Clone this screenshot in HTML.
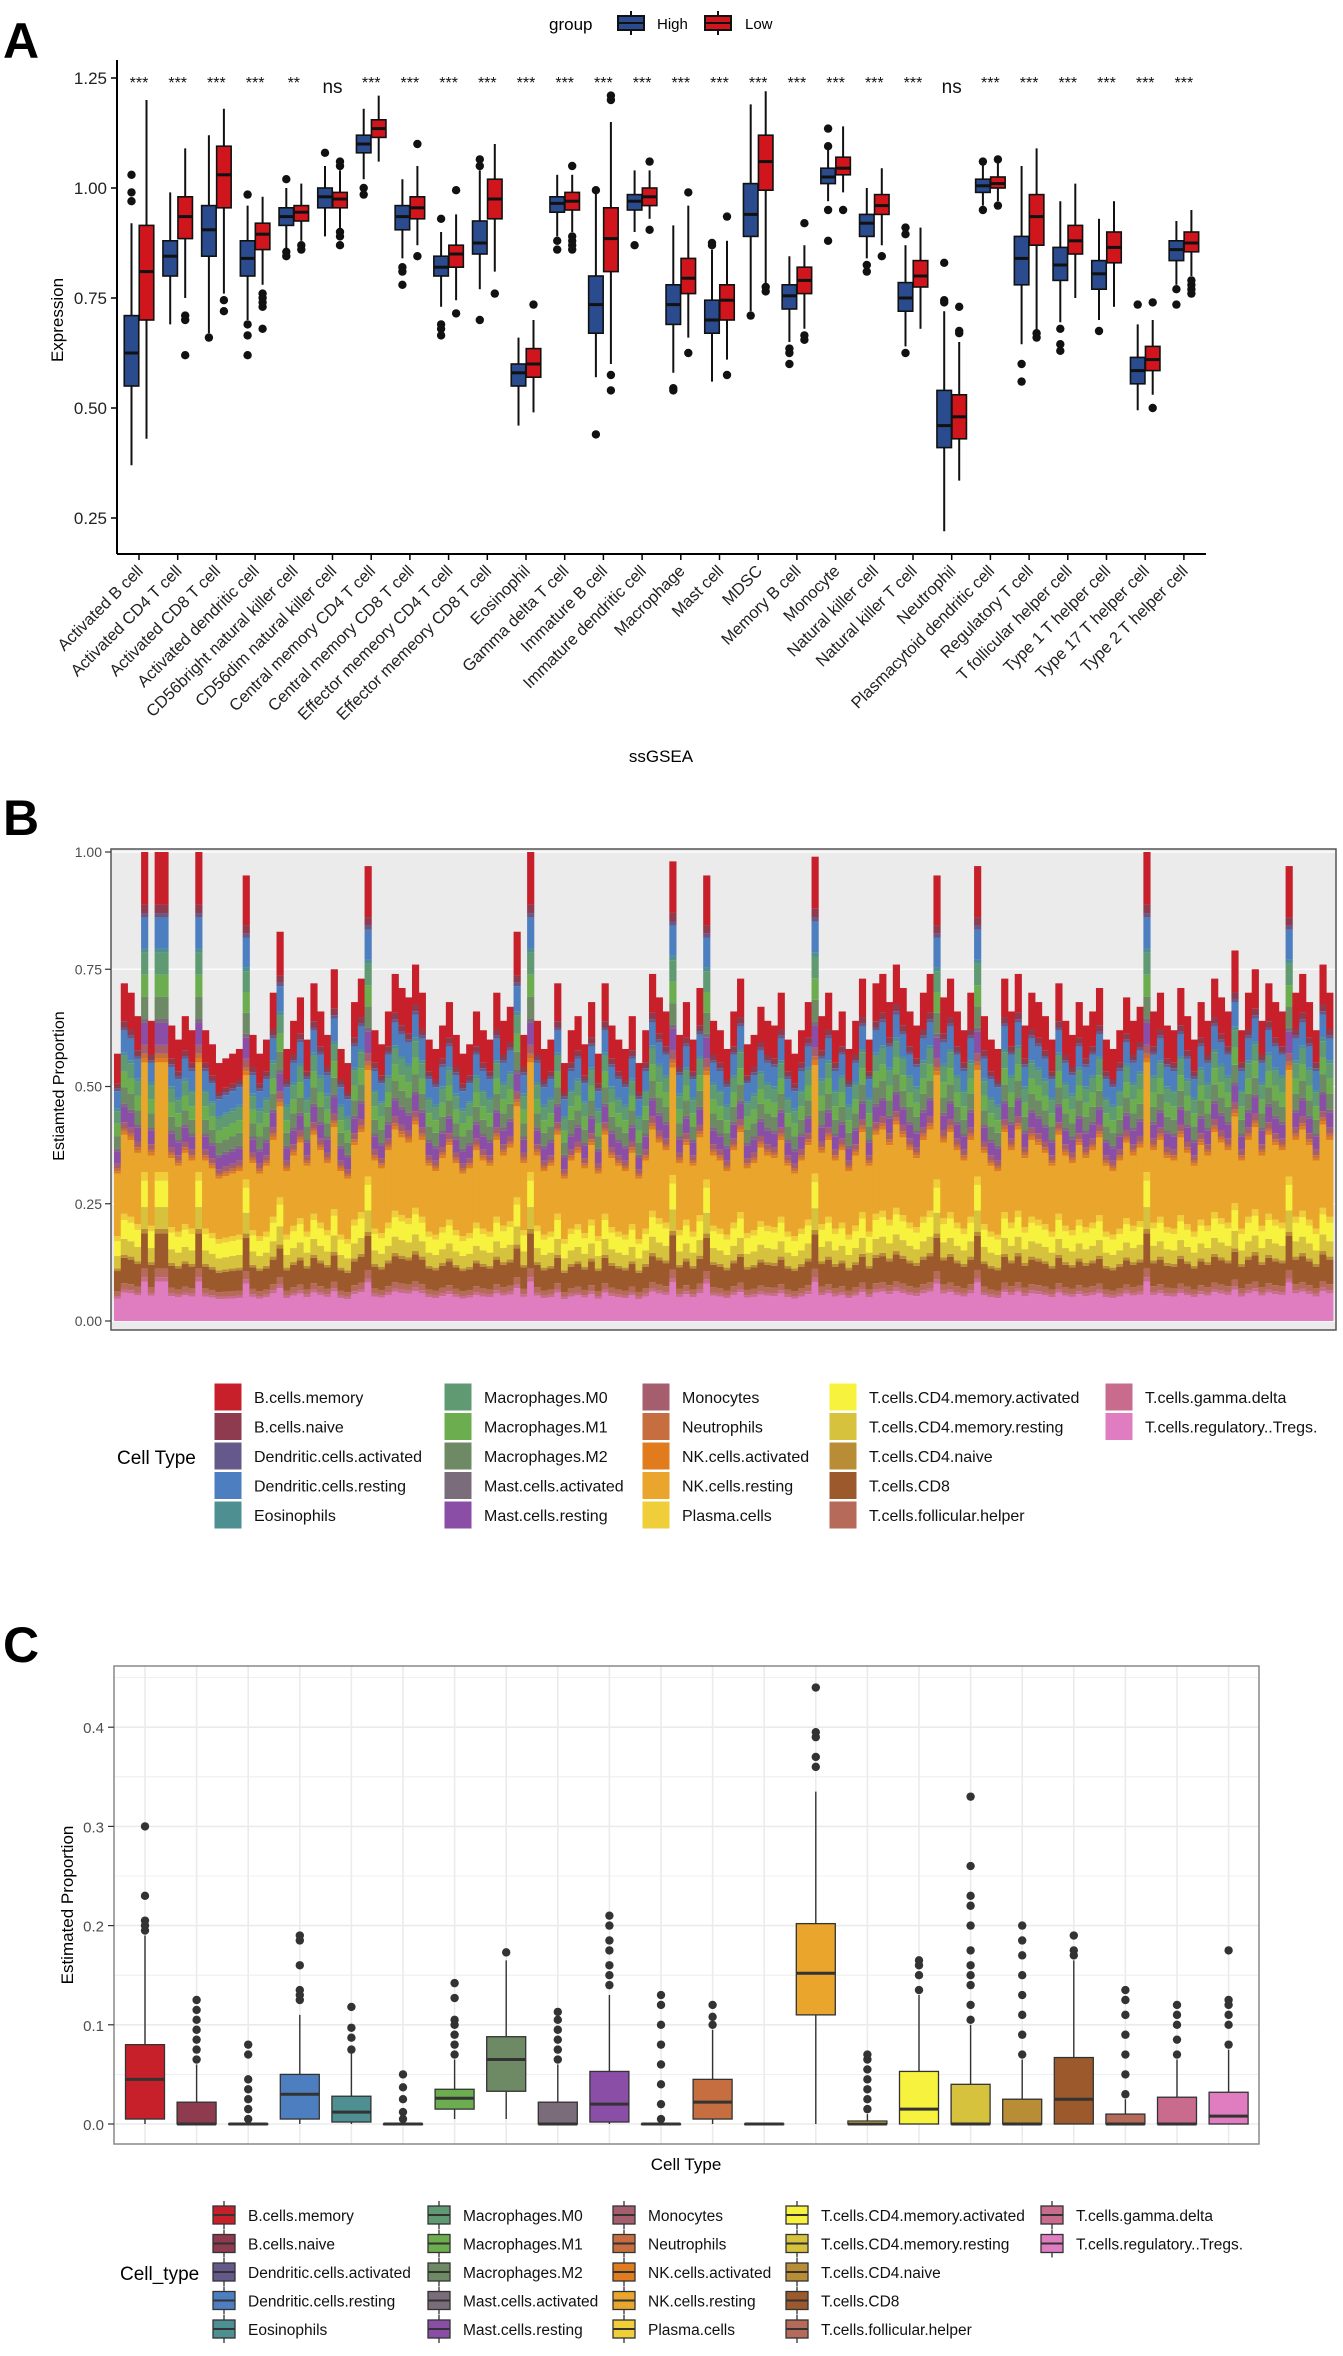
<!DOCTYPE html>
<html><head><meta charset="utf-8"><style>
html,body{margin:0;padding:0;background:#fff;}
svg{display:block;font-family:"Liberation Sans",Arial,sans-serif;}
</style></head><body>
<svg id="fig" width="1343" height="2356" viewBox="0 0 1343 2356" xmlns="http://www.w3.org/2000/svg">
<g id="pA"></g>
<g id="pB"></g>
<g id="pC"></g>
</svg>
<script>
// ---------- Panel A data ----------
const aCategories = ["Activated B cell","Activated CD4 T cell","Activated CD8 T cell","Activated dendritic cell","CD56bright natural killer cell","CD56dim natural killer cell","Central memory CD4 T cell","Central memory CD8 T cell","Effector memeory CD4 T cell","Effector memeory CD8 T cell","Eosinophil","Gamma delta T cell","Immature  B cell","Immature dendritic cell","Macrophage","Mast cell","MDSC","Memory B cell","Monocyte","Natural killer cell","Natural killer T cell","Neutrophil","Plasmacytoid dendritic cell","Regulatory T cell","T follicular helper cell","Type 1 T helper cell","Type 17 T helper cell","Type 2 T helper cell"];
const aSignif = ["***","***","***","***","**","ns","***","***","***","***","***","***","***","***","***","***","***","***","***","***","***","ns","***","***","***","***","***","***"];
// [whiskerLow, q1, median, q3, whiskerHigh]
const aHigh = [[.37,.55,.625,.71,.92],[.69,.80,.845,.88,.99],[.67,.845,.905,.96,1.12],[.70,.80,.84,.88,.96],[.86,.915,.935,.955,1.00],[.89,.955,.98,1.00,1.05],[1.02,1.08,1.10,1.12,1.18],[.84,.905,.935,.96,1.02],[.73,.80,.82,.845,.90],[.77,.85,.875,.925,1.04],[.46,.55,.58,.60,.66],[.89,.945,.965,.98,1.03],[.57,.67,.735,.80,.99],[.90,.95,.97,.985,1.04],[.58,.69,.735,.78,.915],[.56,.67,.70,.745,.86],[.72,.89,.94,1.01,1.19],[.65,.725,.755,.78,.845],[.97,1.01,1.025,1.045,1.09],[.84,.89,.92,.94,1.00],[.64,.72,.75,.785,.87],[.22,.41,.46,.54,.72],[.96,.99,1.005,1.02,1.06],[.645,.78,.84,.89,1.05],[.695,.79,.825,.865,.97],[.70,.77,.805,.835,.93],[.495,.555,.585,.615,.69],[.78,.835,.86,.88,.925]];
const aLow = [[.43,.70,.81,.915,1.20],[.75,.885,.935,.98,1.09],[.76,.955,1.03,1.095,1.18],[.78,.86,.895,.92,.98],[.88,.925,.945,.96,1.01],[.90,.955,.975,.99,1.04],[1.06,1.115,1.135,1.155,1.21],[.87,.93,.955,.98,1.05],[.745,.82,.85,.87,.94],[.81,.93,.975,1.02,1.10],[.49,.57,.60,.635,.70],[.90,.95,.97,.99,1.03],[.60,.81,.885,.955,1.15],[.93,.96,.98,1.00,1.04],[.66,.76,.795,.84,.96],[.61,.70,.745,.78,.88],[.78,.995,1.06,1.12,1.22],[.68,.76,.79,.82,.87],[.99,1.03,1.045,1.07,1.14],[.87,.94,.96,.985,1.045],[.68,.775,.80,.835,.91],[.335,.43,.48,.53,.65],[.97,1.00,1.01,1.025,1.06],[.675,.87,.935,.985,1.09],[.75,.85,.88,.915,1.01],[.73,.83,.865,.90,.97],[.53,.585,.61,.64,.70],[.80,.855,.875,.90,.95]];
const aHighOut = [[.97,.99,1.03],[],[.66],[.985,.69,.665,.62],[1.02,.855,.845],[1.08],[1.00,.985],[.82,.81,.78],[.93,.69,.68,.665],[1.065,1.05,.70],[],[.88,.86],[.995,.44],[.87],[.545,.54],[.875,.87],[.71],[.635,.625,.60],[1.135,1.095,.95,.88],[.825,.81],[.91,.895,.625],[.83,.745,.74],[1.06,.95],[.60,.56],[.68,.645,.63],[.675],[.735],[.77,.735]];
const aLowOut = [[],[.71,.70,.62],[.745,.72],[.76,.75,.74,.73,.68],[.87,.86],[1.06,1.05,.90,.89,.87],[],[1.10,.845],[.995,.715],[.76],[.735],[1.05,.89,.88,.87,.86],[1.21,1.20,.575,.54],[1.06,.905],[.99,.625],[.935,.575],[.775,.765],[.92,.665,.655],[.95],[.845],[],[.73,.675,.67],[1.065,.96],[.67,.66],[],[],[.74,.50],[.79,.78,.77,.76]];
const aTicks = [0.25,0.50,0.75,1.00,1.25];
const aTickLabels = ["0.25","0.50","0.75","1.00","1.25"];

// ---------- Panel B data ----------
const cellTypes = ["B.cells.memory","B.cells.naive","Dendritic.cells.activated","Dendritic.cells.resting","Eosinophils","Macrophages.M0","Macrophages.M1","Macrophages.M2","Mast.cells.activated","Mast.cells.resting","Monocytes","Neutrophils","NK.cells.activated","NK.cells.resting","Plasma.cells","T.cells.CD4.memory.activated","T.cells.CD4.memory.resting","T.cells.CD4.naive","T.cells.CD8","T.cells.follicular.helper","T.cells.gamma.delta","T.cells.regulatory..Tregs."];
const cellColors = ["#c8202a","#8e3a4f","#65588a","#4d7fc0","#4e8f91","#5f9a72","#6cad4f","#6e8a65","#7a6c7a","#8b4ea6","#a65d6e","#c66e3f","#e07b1e","#e9a52c","#f0ce3a","#f7f23d","#d6c23d","#b88d35","#9c5a2c","#b56a5a","#c86b8c","#e07cc0"];
const meanFractions = [.12,.02,.01,.07,.01,.05,.05,.05,.01,.05,.02,.01,.01,.25,.02,.06,.05,.01,.08,.02,.01,.09];
const sampleTotals = [.57,.72,.70,.65,1.0,.64,1.0,1.0,.63,.60,.65,.62,1.0,.62,.59,.55,.56,.57,.58,.95,.61,.57,.60,.70,.83,.58,.64,.69,.60,.72,.66,.61,.75,.58,.55,.68,.73,.97,.62,.59,.66,.74,.71,.69,.76,.70,.60,.58,.63,.68,.61,.57,.59,.66,.62,.60,.70,.64,.67,.83,.61,1.0,.64,.58,.60,.72,.55,.62,.65,.59,.68,.57,.72,.63,.60,.58,.65,.55,.62,.74,.69,.66,.98,.61,.68,.60,.71,.95,.64,.62,.58,.66,.73,.59,.61,.67,.64,.63,.70,.60,.57,.62,.68,.99,.65,.70,.62,.66,.58,.64,.73,.60,.72,.74,.68,.76,.71,.66,.63,.70,.74,.95,.69,.73,.66,.62,.70,.97,.65,.60,.58,.73,.66,.74,.63,.70,.68,.65,.60,.72,.64,.61,.68,.63,.66,.71,.60,.58,.62,.69,.64,.67,1.0,.66,.70,.63,.62,.71,.65,.60,.68,.64,.73,.69,.66,.79,.62,.70,.75,.64,.72,.68,.66,.97,.70,.74,.68,.62,.76,.70];
const bTicks = [0,0.25,0.5,0.75,1.0];
const bTickLabels = ["0.00","0.25","0.50","0.75","1.00"];

// ---------- Panel C data ----------
// [whiskerLow, q1, median, q3, whiskerHigh]
const cStats = [[0,.005,.045,.08,.19],[0,0,0,.022,.06],[0,0,0,0,0],[0,.005,.03,.05,.11],[0,.002,.012,.028,.072],[0,0,0,0,0],[.005,.015,.026,.035,.065],[.005,.033,.065,.088,.165],[0,0,0,.022,.06],[0,.002,.02,.053,.13],[0,0,0,0,0],[0,.005,.022,.045,.095],[0,0,0,0,0],[0,.11,.152,.202,.335],[0,0,0,.003,.01],[0,0,.015,.053,.13],[0,0,0,.04,.1],[0,0,0,.025,.065],[0,0,.025,.067,.165],[0,0,0,.01,.025],[0,0,0,.027,.065],[0,0,.008,.032,.075]];
const cOut = [[.195,.2,.205,.23,.30],[.065,.075,.085,.095,.105,.115,.125],[.005,.015,.025,.035,.045,.07,.08],[.125,.13,.135,.16,.185,.19],[.075,.087,.097,.118],[.005,.012,.025,.037,.05],[.07,.08,.09,.1,.105,.127,.142],[.173],[.065,.075,.085,.095,.105,.113],[.14,.15,.16,.175,.185,.2,.21],[.005,.02,.04,.06,.08,.1,.12,.13],[.1,.108,.12],[],[.36,.37,.39,.395,.44],[.015,.025,.035,.045,.055,.065,.07],[.135,.15,.16,.165],[.105,.12,.14,.15,.16,.175,.2,.22,.23,.26,.33],[.07,.09,.11,.13,.15,.17,.185,.2],[.17,.175,.19],[.03,.05,.07,.09,.11,.125,.135],[.07,.085,.1,.11,.12],[.08,.1,.11,.12,.125,.175]];
const cTicks = [0,0.1,0.2,0.3,0.4];
const cTickLabels = ["0.0","0.1","0.2","0.3","0.4"];

const NS = "http://www.w3.org/2000/svg";
function mk(parent, tag, attrs, text){
  const e = document.createElementNS(NS, tag);
  for (const k in attrs) e.setAttribute(k, attrs[k]);
  if (text !== undefined) e.textContent = text;
  parent.appendChild(e);
  return e;
}

// ================= PANEL A =================
(function(){
  const g = document.getElementById('pA');
  const yA = v => 78 + (1.25 - v) * 440;
  const xA = i => 139 + i * 38.7;
  let t = mk(g,'text',{x:3,y:58,'font-size':50,'font-weight':'bold'},'A');
   
  // legend
  const lg = mk(g,'g',{});
   
  mk(lg,'text',{x:549,y:30,'font-size':17},'group');
  [["High","#2a4b8d",618,657],["Low","#d0161c",705,745]].forEach(d=>{
    const e = mk(lg,'g',{});
     
    mk(e,'line',{x1:d[2]+13,x2:d[2]+13,y1:11,y2:35,stroke:'#111','stroke-width':2});
    mk(e,'rect',{x:d[2],y:16,width:26,height:14,fill:d[1],stroke:'#111','stroke-width':2});
    mk(e,'line',{x1:d[2],x2:d[2]+26,y1:23,y2:23,stroke:'#111','stroke-width':2});
    mk(e,'text',{x:d[3],y:29,'font-size':15},d[0]);
  });
  // axes
  const ax = mk(g,'g',{});
   
  mk(ax,'line',{x1:117,x2:117,y1:60,y2:554,stroke:'#000','stroke-width':2});
  aTicks.forEach((v,i)=>{
    mk(ax,'line',{x1:111,x2:117,y1:yA(v),y2:yA(v),stroke:'#000','stroke-width':1.5});
    mk(ax,'text',{x:107,y:yA(v)+6,'font-size':17,'text-anchor':'end',fill:'#222'},aTickLabels[i]);
  });
  t = mk(g,'text',{x:0,y:0,'font-size':17,'text-anchor':'middle',transform:'translate(63,320) rotate(-90)'},'Expression');
   
  const xa = mk(g,'g',{});
   
  mk(xa,'line',{x1:117,x2:1206,y1:554,y2:554,stroke:'#000','stroke-width':2});
  aCategories.forEach((c,i)=>{
    mk(xa,'line',{x1:xA(i),x2:xA(i),y1:554,y2:560,stroke:'#000','stroke-width':1.5});
    mk(xa,'text',{x:0,y:0,'font-size':16.5,'text-anchor':'end',fill:'#222',transform:`translate(${xA(i)+5},${572}) rotate(-45)`},c);
  });
  t = mk(g,'text',{x:661,y:762,'font-size':17,'text-anchor':'middle'},'ssGSEA');
   
  function box(parent, cx, s, fill, outs){
    const w = 14.5;
    mk(parent,'line',{x1:cx,x2:cx,y1:yA(s[0]),y2:yA(s[4]),stroke:'#111','stroke-width':2});
    mk(parent,'rect',{x:cx-w/2,y:yA(s[3]),width:w,height:yA(s[1])-yA(s[3]),fill:fill,stroke:'#111','stroke-width':1.6});
    mk(parent,'line',{x1:cx-w/2,x2:cx+w/2,y1:yA(s[2]),y2:yA(s[2]),stroke:'#111','stroke-width':3});
    outs.forEach(o=>mk(parent,'circle',{cx:cx,cy:yA(o),r:4.2,fill:'#111'}));
  }
  aCategories.forEach((c,i)=>{
    const gh = mk(g,'g',{});
     
    box(gh, xA(i)-7.5, aHigh[i], '#2a4b8d', aHighOut[i]);
    const gl = mk(g,'g',{});
     
    box(gl, xA(i)+7.5, aLow[i], '#d0161c', aLowOut[i]);
    const s = aSignif[i];
    const st = mk(g,'text',{x:xA(i),y:s==='ns'?93:88,'font-size':s==='ns'?19:16,'text-anchor':'middle',fill:'#111'},s);
     
  });
})();

// ================= PANEL B =================
(function(){
  const g = document.getElementById('pB');
  const L=111,R=1336,T=849,B=1330;
  const yB = v => 1321 - v * 469;
  let t = mk(g,'text',{x:3,y:835,'font-size':50,'font-weight':'bold'},'B');
   
  const bg = mk(g,'rect',{x:L,y:T,width:R-L,height:B-T,fill:'#ebebeb'});
   
  bTicks.forEach(v=>mk(g,'line',{x1:L,x2:R,y1:yB(v),y2:yB(v),stroke:'#fff','stroke-width':1.2}));
  const n = sampleTotals.length;
  const bw = (R-L-6)/n;
  const fsum = meanFractions.reduce((a,b)=>a+b,0);
  const bars = mk(g,'g',{});
   
  sampleTotals.forEach((tot,i)=>{
    const x = L+3+i*bw;
    let acc = 0;
    for (let k=cellTypes.length-1;k>=0;k--){
      const v = tot*meanFractions[k]/fsum;
      const r = mk(bars,'rect',{x:x.toFixed(2),y:yB(acc+v).toFixed(2),width:(bw+0.4).toFixed(2),height:(v*469).toFixed(2),fill:cellColors[k]});
      
      
      acc += v;
    }
  });
  mk(g,'rect',{x:L,y:T,width:R-L,height:B-T,fill:'none',stroke:'#555','stroke-width':1.5});
  const ax = mk(g,'g',{});
   
  bTicks.forEach((v,i)=>{
    mk(ax,'line',{x1:105,x2:L,y1:yB(v),y2:yB(v),stroke:'#333','stroke-width':1.2});
    mk(ax,'text',{x:102,y:yB(v)+5,'font-size':14,'text-anchor':'end',fill:'#4d4d4d'},bTickLabels[i]);
  });
  t = mk(g,'text',{x:0,y:0,'font-size':16,'text-anchor':'middle',transform:'translate(64,1086) rotate(-90)'},'Estiamted Proportion');
   
  // legend
  const lg = mk(g,'g',{});
   
  mk(lg,'text',{x:117,y:1464,'font-size':19},'Cell Type');
  const kx=[214,444,642,829,1105];
  cellTypes.forEach((c,i)=>{
    const col=Math.floor(i/5), row=i%5;
    const cy = 1397+row*29.5;
    const e = mk(lg,'g',{});
     
    mk(e,'rect',{x:kx[col],y:cy-14,width:28,height:28,fill:cellColors[i],stroke:'#fff','stroke-width':1});
    mk(e,'text',{x:kx[col]+40,y:cy+6,'font-size':16,fill:'#111'},c);
  });
})();

// ================= PANEL C =================
(function(){
  const g = document.getElementById('pC');
  const L=114,R=1259,T=1666,B=2144;
  const yC = v => 2124 - v * 992;
  const xC = i => 145 + i * 51.6;
  let t = mk(g,'text',{x:3,y:1662,'font-size':50,'font-weight':'bold'},'C');
   
  const grid = mk(g,'g',{});
   
  for (let v=0; v<=0.45; v+=0.05){
    mk(grid,'line',{x1:L,x2:R,y1:yC(v),y2:yC(v),stroke:'#ebebeb','stroke-width':Math.round(v*100)%10===0?1.6:0.8});
  }
  cellTypes.forEach((c,i)=>mk(grid,'line',{x1:xC(i),x2:xC(i),y1:T,y2:B,stroke:'#ebebeb','stroke-width':1.6}));
  mk(g,'rect',{x:L,y:T,width:R-L,height:B-T,fill:'none',stroke:'#888','stroke-width':1.5});
  const ax = mk(g,'g',{});
   
  cTicks.forEach((v,i)=>{
    mk(ax,'line',{x1:108,x2:L,y1:yC(v),y2:yC(v),stroke:'#333','stroke-width':1.2});
    mk(ax,'text',{x:104,y:yC(v)+6,'font-size':15,'text-anchor':'end',fill:'#4d4d4d'},cTickLabels[i]);
  });
  t = mk(g,'text',{x:0,y:0,'font-size':17,'text-anchor':'middle',transform:'translate(73,1905) rotate(-90)'},'Estimated Proportion');
   
  t = mk(g,'text',{x:686,y:2170,'font-size':17,'text-anchor':'middle'},'Cell Type');
   
  cellTypes.forEach((c,i)=>{
    const s=cStats[i], cx=xC(i), w=39;
    const bx = mk(g,'g',{});
     
    mk(bx,'line',{x1:cx,x2:cx,y1:yC(s[0]),y2:yC(s[4]),stroke:'#333','stroke-width':1.4});
    mk(bx,'rect',{x:cx-w/2,y:yC(s[3]),width:w,height:Math.max(0.5,yC(s[1])-yC(s[3])),fill:cellColors[i],stroke:'#333','stroke-width':1.3});
    mk(bx,'line',{x1:cx-w/2,x2:cx+w/2,y1:yC(s[2]),y2:yC(s[2]),stroke:'#333','stroke-width':3});
    cOut[i].forEach(o=>mk(bx,'circle',{cx:cx,cy:yC(o),r:4.2,fill:'#333'}));
  });
  const lg = mk(g,'g',{});
   
  mk(lg,'text',{x:120,y:2280,'font-size':19},'Cell_type');
  const kx=[213,428,613,786,1041];
  cellTypes.forEach((c,i)=>{
    const col=Math.floor(i/5), row=i%5;
    const cy = 2215+row*28.5;
    const e = mk(lg,'g',{});
     
    mk(e,'line',{x1:kx[col]+11,x2:kx[col]+11,y1:cy-14,y2:cy+14,stroke:'#333','stroke-width':1.3});
    mk(e,'rect',{x:kx[col],y:cy-9,width:22,height:18,fill:cellColors[i],stroke:'#333','stroke-width':1.3});
    mk(e,'line',{x1:kx[col],x2:kx[col]+22,y1:cy,y2:cy,stroke:'#333','stroke-width':2});
    mk(e,'text',{x:kx[col]+35,y:cy+6,'font-size':15.5,fill:'#111'},c);
  });
})();
</script>
</body></html>
